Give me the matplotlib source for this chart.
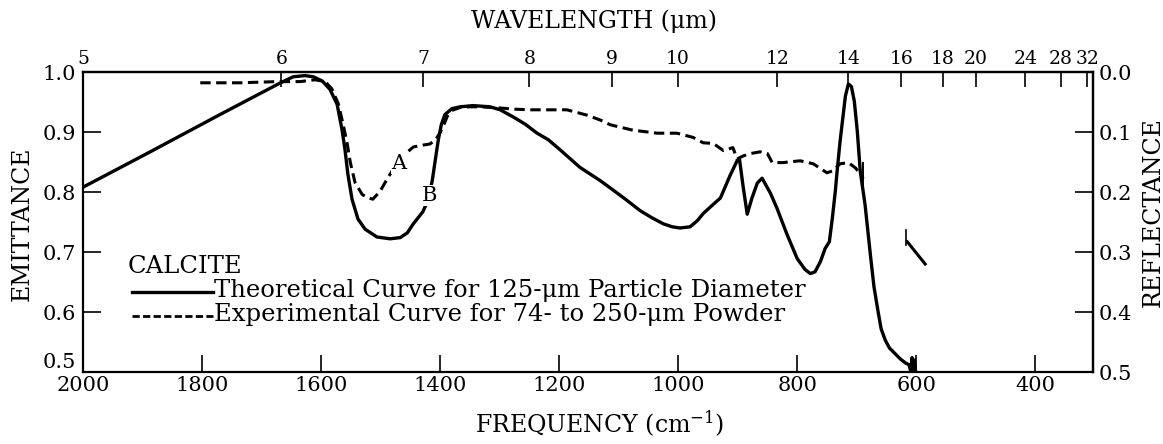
import numpy as np
import matplotlib
matplotlib.use('Agg')
import matplotlib.pyplot as plt
from matplotlib.lines import Line2D

# ---------------- data ----------------
theo_freq = [2000, 1887, 1770, 1672, 1647, 1627, 1613, 1598, 1585, 1573, 1565, 1560,
             1555, 1548, 1538, 1526, 1506, 1484, 1467, 1455, 1445, 1429, 1420, 1413,
             1408, 1403, 1398, 1392, 1380, 1366, 1345, 1316, 1299, 1277, 1257, 1237,
             1218, 1198, 1165, 1131, 1109, 1086, 1064, 1044, 1025, 1010, 997, 980,
             968, 958, 946, 929, 913, 901, 897, 891, 884, 876, 867, 859, 845, 834,
             817, 800, 787, 778, 770, 761, 753, 746, 741, 736, 733, 728, 724, 719,
             714, 709, 704, 699, 694, 686, 677, 671, 664, 659, 652, 645, 635, 627,
             618, 612, 609, 607, 605, 603, 601]
theo_emit = [0.808, 0.867, 0.929, 0.980, 0.992, 0.994, 0.992, 0.985, 0.971, 0.946, 0.905, 0.872,
             0.830, 0.788, 0.755, 0.738, 0.725, 0.722, 0.724, 0.732, 0.747, 0.767, 0.787, 0.820,
             0.854, 0.887, 0.912, 0.929, 0.939, 0.942, 0.944, 0.942, 0.937, 0.925, 0.913, 0.898,
             0.887, 0.870, 0.841, 0.819, 0.803, 0.786, 0.769, 0.757, 0.747, 0.742, 0.740, 0.742,
             0.752, 0.764, 0.775, 0.790, 0.827, 0.852, 0.855, 0.810, 0.763, 0.790, 0.815, 0.823,
             0.798, 0.773, 0.729, 0.689, 0.671, 0.664, 0.667, 0.684, 0.706, 0.717, 0.756, 0.801,
             0.834, 0.884, 0.918, 0.960, 0.980, 0.976, 0.951, 0.901, 0.834, 0.779, 0.695, 0.642,
             0.600, 0.572, 0.553, 0.540, 0.530, 0.522, 0.515, 0.512, 0.500, 0.524, 0.500, 0.520,
             0.500]

exp_freq = [1803, 1736, 1674, 1635, 1610, 1593, 1582, 1571, 1563, 1556, 1551, 1543,
            1531, 1523, 1513, 1501, 1487, 1471, 1459, 1445, 1430, 1417, 1407, 1400,
            1393, 1388, 1380, 1366, 1350, 1333, 1299, 1274, 1249, 1215, 1187, 1153,
            1131, 1114, 1076, 1035, 1002, 975, 958, 941, 924, 908, 901, 891, 879,
            862, 850, 842, 824, 795, 773, 750, 741, 728, 714, 702, 694, 689]
exp_emit = [0.982, 0.982, 0.984, 0.984, 0.987, 0.984, 0.972, 0.947, 0.913, 0.880, 0.850, 0.816,
            0.796, 0.791, 0.788, 0.801, 0.825, 0.850, 0.863, 0.875, 0.878, 0.880, 0.888, 0.899,
            0.914, 0.926, 0.936, 0.941, 0.942, 0.942, 0.940, 0.938, 0.937, 0.937, 0.937, 0.928,
            0.920, 0.912, 0.903, 0.898, 0.898, 0.891, 0.882, 0.881, 0.869, 0.874, 0.855, 0.860,
            0.864, 0.867, 0.864, 0.849, 0.849, 0.852, 0.847, 0.832, 0.835, 0.847, 0.849, 0.840,
            0.830, 0.822]

bar_freq = [689, 689]
bar_emit = [0.848, 0.806]
frag_freq = [615, 585]
frag_emit = [0.717, 0.680]
frag_tick_freq = [618, 618]
frag_tick_emit = [0.736, 0.712]

freq_ticks = [2000, 1800, 1600, 1400, 1200, 1000, 800, 600, 400]
wl_ticks = [5, 6, 7, 8, 9, 10, 12, 14, 16, 18, 20, 24, 28, 32]
emit_ticks = [0.5, 0.6, 0.7, 0.8, 0.9, 1.0]
refl_ticks = [0.0, 0.1, 0.2, 0.3, 0.4, 0.5]

label_A = (1469, 0.847)
label_B = (1417, 0.794)

legend_title = 'CALCITE'
legend_labels = ['Theoretical Curve for 125-\u03bcm Particle Diameter',
                 'Experimental Curve for 74- to 250-\u03bcm Powder']

# ---------------- figure ----------------
plt.rcParams['font.family'] = ['DejaVu Serif']
plt.rcParams['mathtext.fontset'] = 'dejavuserif'

W, H = 1163, 444
fig = plt.figure(figsize=(W / 100, H / 100), dpi=100)
L, R, T, B = 83, 1093, 72, 372
ax = fig.add_axes([L / W, 1 - B / H, (R - L) / W, (B - T) / H])


def fx(x):
    return x / W


def fy(y):
    return 1 - y / H


ax.set_xlim(2000, 303)
ax.set_ylim(0.5, 1.0)

lw_main = 2.4
ax.plot(theo_freq, theo_emit, color='black', lw=lw_main, solid_joinstyle='round',
        solid_capstyle='round')
ax.plot(exp_freq, exp_emit, color='black', lw=2.2, dashes=(3.4, 1.8))
ax.plot(bar_freq, bar_emit, color='black', lw=1.4)
ax.plot(frag_freq, frag_emit, color='black', lw=2.2)
ax.plot(frag_tick_freq, frag_tick_emit, color='black', lw=1.2)

txt_kw = dict(fontsize=15, ha='center', va='center',
              bbox=dict(facecolor='white', edgecolor='none', pad=0.5))
ax.text(*label_A, 'A', **txt_kw)
ax.text(*label_B, 'B', **txt_kw)

for s in ax.spines.values():
    s.set_linewidth(1.6)

ax.set_xticks(freq_ticks)
ax.set_xticklabels([str(v) for v in freq_ticks])
ax.set_yticks(emit_ticks)
ax.set_yticklabels(['%.1f' % v for v in emit_ticks])
ax.tick_params(axis='x', direction='in', length=12, width=1.2, labelsize=15, pad=3)
ax.tick_params(axis='y', direction='in', length=13, width=1.2, labelsize=15, pad=5)
ax.get_yticklabels()[0].set_va('bottom')


def f2w(f):
    f = np.asarray(f, dtype=float)
    return 1e4 / np.where(f == 0, 1e-9, f)


sec = ax.secondary_xaxis('top', functions=(f2w, f2w))
sec.set_xticks(wl_ticks)
sec.set_xticklabels([str(v) for v in wl_ticks])
sec.tick_params(direction='in', length=11, width=1.2, labelsize=13.5, pad=3)
sec.spines['top'].set_linewidth(1.6)


def e2r(e):
    return 1 - np.asarray(e, dtype=float)


secy = ax.secondary_yaxis('right', functions=(e2r, e2r))
secy.set_yticks(refl_ticks)
secy.set_yticklabels(['%.1f' % v for v in refl_ticks])
secy.tick_params(direction='in', length=13, width=1.2, labelsize=15, pad=4)
secy.spines['right'].set_linewidth(1.6)

fig.text(fx(22), fy(224), 'EMITTANCE', rotation=90, ha='center', va='center', fontsize=17)
fig.text(fx(1153), fy(212), 'REFLECTANCE', rotation=90, ha='center', va='center', fontsize=17)
fig.text(fx(594), fy(21), 'WAVELENGTH (\u03bcm)', ha='center', va='center', fontsize=17)
fig.text(fx(600), fy(424), 'FREQUENCY (cm$^{-1}$)', ha='center', va='center', fontsize=17)

# legend (drawn by hand to match the original layout)
fs_leg = 17.5
fig.text(fx(128), fy(273), legend_title, ha='left', va='baseline', fontsize=fs_leg)
fig.add_artist(Line2D([fx(132), fx(213)], [fy(292), fy(292)], color='black', lw=lw_main,
                      transform=fig.transFigure))
fig.add_artist(Line2D([fx(132), fx(213)], [fy(316), fy(316)], color='black', lw=2.0,
                      dashes=(2.6, 1.2), transform=fig.transFigure))
fig.text(fx(214), fy(297), legend_labels[0], ha='left', va='baseline', fontsize=fs_leg)
fig.text(fx(214), fy(321), legend_labels[1], ha='left', va='baseline', fontsize=fs_leg)

fig.savefig('out.png', dpi=100)
